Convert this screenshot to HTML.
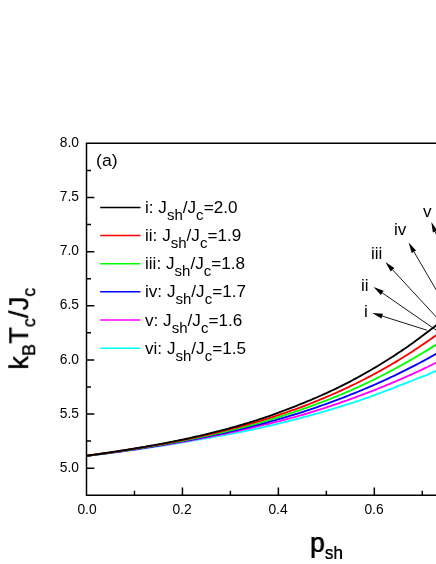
<!DOCTYPE html>
<html><head><meta charset="utf-8"><title>chart</title>
<style>
html,body{margin:0;padding:0;background:#fff;}
body{width:436px;height:564px;position:relative;overflow:hidden;font-family:"Liberation Sans",sans-serif;color:#000;}
.t{position:absolute;white-space:nowrap;line-height:1;will-change:transform;}
.yl{font-size:13.8px;text-align:right;width:40px;}
.xl{font-size:13.8px;text-align:center;width:40px;}
.lg{font-size:16.3px;transform-origin:0 0;transform:scaleX(1.052);will-change:transform;}
.lg sub{font-size:14.3px;vertical-align:baseline;position:relative;top:6.8px;line-height:0;}
.ar{font-size:16.3px;transform-origin:0 0;transform:scaleX(1.05);}
</style></head><body>
<svg width="436" height="564" viewBox="0 0 436 564" style="position:absolute;left:0;top:0">
<path d="M86.5,455.80 L88.5,455.58 L90.5,455.36 L92.5,455.14 L94.5,454.91 L96.5,454.68 L98.5,454.45 L100.5,454.21 L102.5,453.98 L104.5,453.73 L106.5,453.49 L108.5,453.25 L110.5,453.00 L112.5,452.75 L114.5,452.49 L116.5,452.24 L118.5,451.98 L120.5,451.72 L122.5,451.45 L124.5,451.19 L126.5,450.92 L128.5,450.65 L130.5,450.37 L132.5,450.10 L134.5,449.82 L136.5,449.54 L138.5,449.25 L140.5,448.97 L142.5,448.68 L144.5,448.39 L146.5,448.09 L148.5,447.80 L150.5,447.50 L152.5,447.20 L154.5,446.89 L156.5,446.59 L158.5,446.28 L160.5,445.97 L162.5,445.66 L164.5,445.34 L166.5,445.03 L168.5,444.71 L170.5,444.39 L172.5,444.06 L174.5,443.73 L176.5,443.40 L178.5,443.07 L180.5,442.74 L182.5,442.40 L184.5,442.06 L186.5,441.72 L188.5,441.38 L190.5,441.03 L192.5,440.69 L194.5,440.34 L196.5,439.98 L198.5,439.63 L200.5,439.28 L202.5,438.92 L204.5,438.57 L206.5,438.22 L208.5,437.87 L210.5,437.52 L212.5,437.16 L214.5,436.81 L216.5,436.45 L218.5,436.09 L220.5,435.73 L222.5,435.37 L224.5,435.01 L226.5,434.64 L228.5,434.27 L230.5,433.90 L232.5,433.53 L234.5,433.15 L236.5,432.77 L238.5,432.38 L240.5,431.99 L242.5,431.60 L244.5,431.20 L246.5,430.79 L248.5,430.38 L250.5,429.97 L252.5,429.55 L254.5,429.12 L256.5,428.69 L258.5,428.25 L260.5,427.81 L262.5,427.36 L264.5,426.91 L266.5,426.45 L268.5,425.99 L270.5,425.52 L272.5,425.05 L274.5,424.57 L276.5,424.09 L278.5,423.61 L280.5,423.12 L282.5,422.63 L284.5,422.13 L286.5,421.63 L288.5,421.13 L290.5,420.62 L292.5,420.11 L294.5,419.59 L296.5,419.08 L298.5,418.55 L300.5,418.03 L302.5,417.50 L304.5,416.97 L306.5,416.43 L308.5,415.89 L310.5,415.35 L312.5,414.79 L314.5,414.24 L316.5,413.68 L318.5,413.12 L320.5,412.55 L322.5,411.98 L324.5,411.40 L326.5,410.81 L328.5,410.23 L330.5,409.63 L332.5,409.04 L334.5,408.43 L336.5,407.83 L338.5,407.21 L340.5,406.60 L342.5,405.97 L344.5,405.34 L346.5,404.71 L348.5,404.07 L350.5,403.43 L352.5,402.77 L354.5,402.11 L356.5,401.44 L358.5,400.76 L360.5,400.08 L362.5,399.38 L364.5,398.68 L366.5,397.98 L368.5,397.26 L370.5,396.54 L372.5,395.81 L374.5,395.08 L376.5,394.34 L378.5,393.60 L380.5,392.85 L382.5,392.10 L384.5,391.34 L386.5,390.58 L388.5,389.82 L390.5,389.05 L392.5,388.28 L394.5,387.50 L396.5,386.73 L398.5,385.95 L400.5,385.16 L402.5,384.38 L404.5,383.60 L406.5,382.81 L408.5,382.03 L410.5,381.26 L412.5,380.50 L414.5,379.74 L416.5,378.97 L418.5,378.20 L420.5,377.43 L422.5,376.64 L424.5,375.84 L426.5,375.02 L428.5,374.18 L430.5,373.33 L432.5,372.47 L434.5,371.59 L436.5,370.71 L438.5,369.82" fill="none" stroke="#00ffff" stroke-width="1.85" stroke-linejoin="round"/>
<path d="M86.5,455.80 L88.5,455.57 L90.5,455.33 L92.5,455.10 L94.5,454.86 L96.5,454.61 L98.5,454.37 L100.5,454.12 L102.5,453.87 L104.5,453.62 L106.5,453.37 L108.5,453.11 L110.5,452.85 L112.5,452.59 L114.5,452.32 L116.5,452.06 L118.5,451.79 L120.5,451.52 L122.5,451.24 L124.5,450.96 L126.5,450.69 L128.5,450.40 L130.5,450.12 L132.5,449.83 L134.5,449.54 L136.5,449.25 L138.5,448.96 L140.5,448.66 L142.5,448.36 L144.5,448.06 L146.5,447.76 L148.5,447.45 L150.5,447.14 L152.5,446.83 L154.5,446.51 L156.5,446.20 L158.5,445.88 L160.5,445.56 L162.5,445.23 L164.5,444.90 L166.5,444.57 L168.5,444.24 L170.5,443.90 L172.5,443.57 L174.5,443.22 L176.5,442.88 L178.5,442.53 L180.5,442.18 L182.5,441.83 L184.5,441.48 L186.5,441.12 L188.5,440.76 L190.5,440.39 L192.5,440.03 L194.5,439.66 L196.5,439.29 L198.5,438.91 L200.5,438.53 L202.5,438.15 L204.5,437.77 L206.5,437.38 L208.5,436.99 L210.5,436.60 L212.5,436.20 L214.5,435.80 L216.5,435.40 L218.5,434.99 L220.5,434.58 L222.5,434.17 L224.5,433.75 L226.5,433.33 L228.5,432.91 L230.5,432.49 L232.5,432.06 L234.5,431.62 L236.5,431.19 L238.5,430.75 L240.5,430.30 L242.5,429.86 L244.5,429.41 L246.5,428.95 L248.5,428.50 L250.5,428.04 L252.5,427.57 L254.5,427.10 L256.5,426.63 L258.5,426.16 L260.5,425.68 L262.5,425.20 L264.5,424.72 L266.5,424.24 L268.5,423.76 L270.5,423.27 L272.5,422.78 L274.5,422.28 L276.5,421.78 L278.5,421.28 L280.5,420.78 L282.5,420.26 L284.5,419.75 L286.5,419.23 L288.5,418.70 L290.5,418.17 L292.5,417.63 L294.5,417.09 L296.5,416.54 L298.5,415.98 L300.5,415.42 L302.5,414.84 L304.5,414.26 L306.5,413.68 L308.5,413.08 L310.5,412.47 L312.5,411.86 L314.5,411.24 L316.5,410.62 L318.5,409.98 L320.5,409.34 L322.5,408.70 L324.5,408.05 L326.5,407.39 L328.5,406.72 L330.5,406.05 L332.5,405.38 L334.5,404.70 L336.5,404.02 L338.5,403.33 L340.5,402.63 L342.5,401.93 L344.5,401.23 L346.5,400.53 L348.5,399.82 L350.5,399.11 L352.5,398.39 L354.5,397.66 L356.5,396.93 L358.5,396.20 L360.5,395.45 L362.5,394.70 L364.5,393.95 L366.5,393.19 L368.5,392.42 L370.5,391.65 L372.5,390.87 L374.5,390.08 L376.5,389.29 L378.5,388.49 L380.5,387.68 L382.5,386.87 L384.5,386.05 L386.5,385.23 L388.5,384.40 L390.5,383.56 L392.5,382.72 L394.5,381.87 L396.5,381.02 L398.5,380.16 L400.5,379.29 L402.5,378.42 L404.5,377.54 L406.5,376.65 L408.5,375.76 L410.5,374.87 L412.5,373.97 L414.5,373.07 L416.5,372.15 L418.5,371.23 L420.5,370.31 L422.5,369.37 L424.5,368.42 L426.5,367.46 L428.5,366.49 L430.5,365.50 L432.5,364.51 L434.5,363.51 L436.5,362.51 L438.5,361.49" fill="none" stroke="#ff00ff" stroke-width="1.85" stroke-linejoin="round"/>
<path d="M86.5,455.80 L88.5,455.55 L90.5,455.31 L92.5,455.06 L94.5,454.80 L96.5,454.55 L98.5,454.29 L100.5,454.03 L102.5,453.77 L104.5,453.51 L106.5,453.25 L108.5,452.98 L110.5,452.71 L112.5,452.44 L114.5,452.16 L116.5,451.88 L118.5,451.61 L120.5,451.32 L122.5,451.04 L124.5,450.75 L126.5,450.47 L128.5,450.17 L130.5,449.88 L132.5,449.59 L134.5,449.29 L136.5,448.99 L138.5,448.68 L140.5,448.38 L142.5,448.07 L144.5,447.76 L146.5,447.44 L148.5,447.12 L150.5,446.80 L152.5,446.48 L154.5,446.16 L156.5,445.83 L158.5,445.50 L160.5,445.16 L162.5,444.83 L164.5,444.49 L166.5,444.15 L168.5,443.80 L170.5,443.45 L172.5,443.10 L174.5,442.75 L176.5,442.39 L178.5,442.03 L180.5,441.66 L182.5,441.30 L184.5,440.92 L186.5,440.55 L188.5,440.17 L190.5,439.79 L192.5,439.41 L194.5,439.02 L196.5,438.63 L198.5,438.24 L200.5,437.84 L202.5,437.44 L204.5,437.04 L206.5,436.63 L208.5,436.22 L210.5,435.80 L212.5,435.38 L214.5,434.96 L216.5,434.53 L218.5,434.10 L220.5,433.67 L222.5,433.23 L224.5,432.79 L226.5,432.34 L228.5,431.89 L230.5,431.44 L232.5,430.98 L234.5,430.51 L236.5,430.05 L238.5,429.58 L240.5,429.10 L242.5,428.62 L244.5,428.14 L246.5,427.65 L248.5,427.16 L250.5,426.66 L252.5,426.16 L254.5,425.65 L256.5,425.14 L258.5,424.63 L260.5,424.11 L262.5,423.58 L264.5,423.05 L266.5,422.52 L268.5,421.98 L270.5,421.43 L272.5,420.88 L274.5,420.33 L276.5,419.77 L278.5,419.21 L280.5,418.64 L282.5,418.06 L284.5,417.48 L286.5,416.90 L288.5,416.31 L290.5,415.71 L292.5,415.11 L294.5,414.50 L296.5,413.89 L298.5,413.27 L300.5,412.65 L302.5,412.01 L304.5,411.37 L306.5,410.73 L308.5,410.07 L310.5,409.40 L312.5,408.73 L314.5,408.05 L316.5,407.36 L318.5,406.66 L320.5,405.96 L322.5,405.25 L324.5,404.54 L326.5,403.81 L328.5,403.08 L330.5,402.35 L332.5,401.61 L334.5,400.86 L336.5,400.11 L338.5,399.35 L340.5,398.59 L342.5,397.82 L344.5,397.05 L346.5,396.27 L348.5,395.49 L350.5,394.71 L352.5,393.92 L354.5,393.12 L356.5,392.31 L358.5,391.50 L360.5,390.68 L362.5,389.85 L364.5,389.02 L366.5,388.18 L368.5,387.33 L370.5,386.47 L372.5,385.60 L374.5,384.73 L376.5,383.85 L378.5,382.96 L380.5,382.07 L382.5,381.16 L384.5,380.25 L386.5,379.33 L388.5,378.40 L390.5,377.46 L392.5,376.52 L394.5,375.56 L396.5,374.60 L398.5,373.63 L400.5,372.65 L402.5,371.66 L404.5,370.67 L406.5,369.66 L408.5,368.65 L410.5,367.64 L412.5,366.62 L414.5,365.59 L416.5,364.56 L418.5,363.52 L420.5,362.46 L422.5,361.40 L424.5,360.33 L426.5,359.24 L428.5,358.14 L430.5,357.03 L432.5,355.91 L434.5,354.78 L436.5,353.64 L438.5,352.49" fill="none" stroke="#0000ff" stroke-width="1.85" stroke-linejoin="round"/>
<path d="M86.5,455.80 L88.5,455.54 L90.5,455.27 L92.5,455.01 L94.5,454.74 L96.5,454.47 L98.5,454.20 L100.5,453.93 L102.5,453.66 L104.5,453.38 L106.5,453.10 L108.5,452.82 L110.5,452.54 L112.5,452.26 L114.5,451.97 L116.5,451.69 L118.5,451.40 L120.5,451.11 L122.5,450.81 L124.5,450.52 L126.5,450.22 L128.5,449.92 L130.5,449.61 L132.5,449.31 L134.5,449.00 L136.5,448.69 L138.5,448.37 L140.5,448.06 L142.5,447.74 L144.5,447.42 L146.5,447.09 L148.5,446.77 L150.5,446.44 L152.5,446.10 L154.5,445.77 L156.5,445.43 L158.5,445.09 L160.5,444.74 L162.5,444.40 L164.5,444.05 L166.5,443.69 L168.5,443.33 L170.5,442.97 L172.5,442.61 L174.5,442.24 L176.5,441.87 L178.5,441.50 L180.5,441.12 L182.5,440.74 L184.5,440.35 L186.5,439.96 L188.5,439.57 L190.5,439.17 L192.5,438.77 L194.5,438.37 L196.5,437.96 L198.5,437.55 L200.5,437.13 L202.5,436.71 L204.5,436.29 L206.5,435.86 L208.5,435.43 L210.5,434.99 L212.5,434.55 L214.5,434.10 L216.5,433.65 L218.5,433.20 L220.5,432.74 L222.5,432.28 L224.5,431.81 L226.5,431.34 L228.5,430.86 L230.5,430.38 L232.5,429.89 L234.5,429.40 L236.5,428.90 L238.5,428.40 L240.5,427.89 L242.5,427.38 L244.5,426.86 L246.5,426.34 L248.5,425.81 L250.5,425.28 L252.5,424.74 L254.5,424.20 L256.5,423.65 L258.5,423.09 L260.5,422.53 L262.5,421.96 L264.5,421.38 L266.5,420.79 L268.5,420.20 L270.5,419.60 L272.5,418.99 L274.5,418.38 L276.5,417.76 L278.5,417.13 L280.5,416.50 L282.5,415.86 L284.5,415.22 L286.5,414.57 L288.5,413.91 L290.5,413.25 L292.5,412.59 L294.5,411.92 L296.5,411.24 L298.5,410.56 L300.5,409.88 L302.5,409.19 L304.5,408.49 L306.5,407.79 L308.5,407.08 L310.5,406.36 L312.5,405.64 L314.5,404.91 L316.5,404.17 L318.5,403.42 L320.5,402.67 L322.5,401.91 L324.5,401.15 L326.5,400.37 L328.5,399.59 L330.5,398.80 L332.5,398.00 L334.5,397.20 L336.5,396.38 L338.5,395.56 L340.5,394.74 L342.5,393.90 L344.5,393.06 L346.5,392.20 L348.5,391.34 L350.5,390.48 L352.5,389.60 L354.5,388.71 L356.5,387.81 L358.5,386.91 L360.5,385.99 L362.5,385.06 L364.5,384.12 L366.5,383.18 L368.5,382.22 L370.5,381.26 L372.5,380.28 L374.5,379.30 L376.5,378.31 L378.5,377.30 L380.5,376.29 L382.5,375.27 L384.5,374.24 L386.5,373.21 L388.5,372.16 L390.5,371.11 L392.5,370.04 L394.5,368.97 L396.5,367.89 L398.5,366.80 L400.5,365.71 L402.5,364.60 L404.5,363.49 L406.5,362.37 L408.5,361.24 L410.5,360.10 L412.5,358.95 L414.5,357.79 L416.5,356.62 L418.5,355.44 L420.5,354.25 L422.5,353.04 L424.5,351.83 L426.5,350.61 L428.5,349.38 L430.5,348.13 L432.5,346.88 L434.5,345.62 L436.5,344.34 L438.5,343.05" fill="none" stroke="#00ff00" stroke-width="1.85" stroke-linejoin="round"/>
<path d="M86.5,455.80 L88.5,455.53 L90.5,455.26 L92.5,454.98 L94.5,454.70 L96.5,454.43 L98.5,454.15 L100.5,453.87 L102.5,453.58 L104.5,453.30 L106.5,453.01 L108.5,452.72 L110.5,452.43 L112.5,452.14 L114.5,451.84 L116.5,451.54 L118.5,451.24 L120.5,450.94 L122.5,450.64 L124.5,450.33 L126.5,450.02 L128.5,449.71 L130.5,449.40 L132.5,449.08 L134.5,448.76 L136.5,448.44 L138.5,448.11 L140.5,447.78 L142.5,447.45 L144.5,447.12 L146.5,446.78 L148.5,446.44 L150.5,446.10 L152.5,445.75 L154.5,445.40 L156.5,445.05 L158.5,444.69 L160.5,444.33 L162.5,443.97 L164.5,443.60 L166.5,443.23 L168.5,442.86 L170.5,442.48 L172.5,442.10 L174.5,441.72 L176.5,441.33 L178.5,440.94 L180.5,440.54 L182.5,440.14 L184.5,439.74 L186.5,439.33 L188.5,438.91 L190.5,438.50 L192.5,438.08 L194.5,437.65 L196.5,437.22 L198.5,436.79 L200.5,436.35 L202.5,435.90 L204.5,435.46 L206.5,435.00 L208.5,434.55 L210.5,434.08 L212.5,433.62 L214.5,433.14 L216.5,432.67 L218.5,432.18 L220.5,431.70 L222.5,431.20 L224.5,430.71 L226.5,430.20 L228.5,429.69 L230.5,429.18 L232.5,428.66 L234.5,428.14 L236.5,427.61 L238.5,427.07 L240.5,426.53 L242.5,425.98 L244.5,425.43 L246.5,424.87 L248.5,424.30 L250.5,423.73 L252.5,423.16 L254.5,422.57 L256.5,421.98 L258.5,421.39 L260.5,420.79 L262.5,420.18 L264.5,419.56 L266.5,418.94 L268.5,418.31 L270.5,417.68 L272.5,417.04 L274.5,416.39 L276.5,415.73 L278.5,415.07 L280.5,414.40 L282.5,413.73 L284.5,413.05 L286.5,412.36 L288.5,411.66 L290.5,410.96 L292.5,410.24 L294.5,409.53 L296.5,408.80 L298.5,408.07 L300.5,407.32 L302.5,406.58 L304.5,405.82 L306.5,405.06 L308.5,404.28 L310.5,403.50 L312.5,402.71 L314.5,401.92 L316.5,401.11 L318.5,400.30 L320.5,399.48 L322.5,398.65 L324.5,397.82 L326.5,396.97 L328.5,396.12 L330.5,395.25 L332.5,394.38 L334.5,393.50 L336.5,392.62 L338.5,391.72 L340.5,390.81 L342.5,389.90 L344.5,388.97 L346.5,388.04 L348.5,387.10 L350.5,386.15 L352.5,385.19 L354.5,384.21 L356.5,383.23 L358.5,382.24 L360.5,381.24 L362.5,380.23 L364.5,379.20 L366.5,378.17 L368.5,377.13 L370.5,376.07 L372.5,375.01 L374.5,373.93 L376.5,372.85 L378.5,371.75 L380.5,370.65 L382.5,369.53 L384.5,368.40 L386.5,367.26 L388.5,366.11 L390.5,364.95 L392.5,363.78 L394.5,362.60 L396.5,361.40 L398.5,360.20 L400.5,358.98 L402.5,357.75 L404.5,356.52 L406.5,355.26 L408.5,354.00 L410.5,352.71 L412.5,351.41 L414.5,350.10 L416.5,348.77 L418.5,347.43 L420.5,346.09 L422.5,344.73 L424.5,343.37 L426.5,342.01 L428.5,340.64 L430.5,339.27 L432.5,337.88 L434.5,336.48 L436.5,335.07 L438.5,333.64" fill="none" stroke="#ff0000" stroke-width="1.85" stroke-linejoin="round"/>
<path d="M86.5,455.80 L88.5,455.52 L90.5,455.23 L92.5,454.95 L94.5,454.66 L96.5,454.37 L98.5,454.08 L100.5,453.79 L102.5,453.49 L104.5,453.20 L106.5,452.90 L108.5,452.60 L110.5,452.30 L112.5,452.00 L114.5,451.69 L116.5,451.39 L118.5,451.08 L120.5,450.77 L122.5,450.45 L124.5,450.14 L126.5,449.82 L128.5,449.50 L130.5,449.17 L132.5,448.84 L134.5,448.52 L136.5,448.18 L138.5,447.85 L140.5,447.51 L142.5,447.17 L144.5,446.82 L146.5,446.47 L148.5,446.12 L150.5,445.77 L152.5,445.41 L154.5,445.05 L156.5,444.68 L158.5,444.31 L160.5,443.94 L162.5,443.56 L164.5,443.18 L166.5,442.80 L168.5,442.41 L170.5,442.02 L172.5,441.62 L174.5,441.22 L176.5,440.82 L178.5,440.41 L180.5,439.99 L182.5,439.58 L184.5,439.15 L186.5,438.73 L188.5,438.29 L190.5,437.86 L192.5,437.41 L194.5,436.97 L196.5,436.52 L198.5,436.06 L200.5,435.60 L202.5,435.13 L204.5,434.66 L206.5,434.18 L208.5,433.70 L210.5,433.21 L212.5,432.71 L214.5,432.21 L216.5,431.71 L218.5,431.20 L220.5,430.68 L222.5,430.16 L224.5,429.63 L226.5,429.09 L228.5,428.55 L230.5,428.00 L232.5,427.45 L234.5,426.89 L236.5,426.32 L238.5,425.75 L240.5,425.17 L242.5,424.58 L244.5,423.99 L246.5,423.39 L248.5,422.78 L250.5,422.17 L252.5,421.55 L254.5,420.92 L256.5,420.28 L258.5,419.64 L260.5,418.99 L262.5,418.33 L264.5,417.65 L266.5,416.97 L268.5,416.28 L270.5,415.58 L272.5,414.88 L274.5,414.16 L276.5,413.44 L278.5,412.71 L280.5,411.97 L282.5,411.22 L284.5,410.47 L286.5,409.70 L288.5,408.93 L290.5,408.16 L292.5,407.37 L294.5,406.58 L296.5,405.79 L298.5,404.98 L300.5,404.17 L302.5,403.36 L304.5,402.54 L306.5,401.71 L308.5,400.88 L310.5,400.04 L312.5,399.19 L314.5,398.34 L316.5,397.48 L318.5,396.61 L320.5,395.73 L322.5,394.85 L324.5,393.95 L326.5,393.05 L328.5,392.13 L330.5,391.21 L332.5,390.27 L334.5,389.32 L336.5,388.37 L338.5,387.40 L340.5,386.41 L342.5,385.42 L344.5,384.41 L346.5,383.39 L348.5,382.36 L350.5,381.31 L352.5,380.25 L354.5,379.18 L356.5,378.10 L358.5,377.00 L360.5,375.90 L362.5,374.79 L364.5,373.66 L366.5,372.53 L368.5,371.38 L370.5,370.22 L372.5,369.05 L374.5,367.87 L376.5,366.68 L378.5,365.48 L380.5,364.26 L382.5,363.04 L384.5,361.80 L386.5,360.55 L388.5,359.29 L390.5,358.02 L392.5,356.73 L394.5,355.43 L396.5,354.12 L398.5,352.80 L400.5,351.47 L402.5,350.12 L404.5,348.77 L406.5,347.40 L408.5,346.01 L410.5,344.60 L412.5,343.17 L414.5,341.72 L416.5,340.26 L418.5,338.79 L420.5,337.30 L422.5,335.81 L424.5,334.30 L426.5,332.80 L428.5,331.28 L430.5,329.76 L432.5,328.22 L434.5,326.67 L436.5,325.10 L438.5,323.52" fill="none" stroke="#000000" stroke-width="1.85" stroke-linejoin="round"/>
<path d="M438,143.35 H86.5 V495.26 H438" fill="none" stroke="#000" stroke-width="1.5" stroke-linejoin="miter"/>
<path d="M86.5,468.19 h7.8 M86.5,441.12 h4.5 M86.5,414.05 h7.8 M86.5,386.98 h4.5 M86.5,359.91 h7.8 M86.5,332.84 h4.5 M86.5,305.77 h7.8 M86.5,278.70 h4.5 M86.5,251.63 h7.8 M86.5,224.56 h4.5 M86.5,197.49 h7.8 M86.5,170.42 h4.5 M134.47,495.26 v-4.5 M182.44,495.26 v-7.8 M230.41,495.26 v-4.5 M278.38,495.26 v-7.8 M326.35,495.26 v-4.5 M374.32,495.26 v-7.8 M422.29,495.26 v-4.5" fill="none" stroke="#000" stroke-width="1.5"/>
<line x1="100.2" x2="140.5" y1="207.40" y2="207.40" stroke="#000000" stroke-width="1.5"/>
<line x1="100.2" x2="140.5" y1="235.55" y2="235.55" stroke="#ff0000" stroke-width="1.5"/>
<line x1="100.2" x2="140.5" y1="263.70" y2="263.70" stroke="#00ff00" stroke-width="1.5"/>
<line x1="100.2" x2="140.5" y1="291.85" y2="291.85" stroke="#0000ff" stroke-width="1.5"/>
<line x1="100.2" x2="140.5" y1="320.00" y2="320.00" stroke="#ff00ff" stroke-width="1.5"/>
<line x1="100.2" x2="140.5" y1="348.15" y2="348.15" stroke="#00ffff" stroke-width="1.5"/>
<line x1="382.21" y1="316.06" x2="426.90" y2="330.19" stroke="#000" stroke-width="0.9"/>
<polygon points="372.20,312.90 381.46,318.45 382.97,313.68" fill="#000"/>
<line x1="382.24" y1="292.87" x2="440.00" y2="332.78" stroke="#000" stroke-width="0.9"/>
<polygon points="373.60,286.90 380.82,294.93 383.66,290.81" fill="#000"/>
<line x1="392.53" y1="269.71" x2="440.00" y2="321.02" stroke="#000" stroke-width="0.9"/>
<polygon points="385.40,262.00 390.70,271.41 394.37,268.01" fill="#000"/>
<line x1="413.89" y1="251.67" x2="440.00" y2="296.45" stroke="#000" stroke-width="0.9"/>
<polygon points="408.60,242.60 411.73,252.93 416.05,250.41" fill="#000"/>
<line x1="435.20" y1="231.65" x2="440.00" y2="243.65" stroke="#000" stroke-width="0.9"/>
<polygon points="431.30,221.90 432.88,232.58 437.52,230.72" fill="#000"/>
</svg>
<div class="t yl" style="left:38.5px;top:460.89px">5.0</div>
<div class="t yl" style="left:38.5px;top:406.75px">5.5</div>
<div class="t yl" style="left:38.5px;top:352.61px">6.0</div>
<div class="t yl" style="left:38.5px;top:298.47px">6.5</div>
<div class="t yl" style="left:38.5px;top:244.33px">7.0</div>
<div class="t yl" style="left:38.5px;top:190.19px">7.5</div>
<div class="t yl" style="left:38.5px;top:136.05px">8.0</div>
<div class="t xl" style="left:66.50px;top:502.8px">0.0</div>
<div class="t xl" style="left:162.44px;top:502.8px">0.2</div>
<div class="t xl" style="left:258.38px;top:502.8px">0.4</div>
<div class="t xl" style="left:354.32px;top:502.8px">0.6</div>
<div class="t lg a" style="left:96px;top:152.5px;font-size:16.8px">(a)</div>
<div class="t lg" style="left:144.8px;top:199.00px">i: J<sub>sh</sub>/J<sub>c</sub>=2.0</div>
<div class="t lg" style="left:144.8px;top:227.15px">ii: J<sub>sh</sub>/J<sub>c</sub>=1.9</div>
<div class="t lg" style="left:144.8px;top:255.30px">iii: J<sub>sh</sub>/J<sub>c</sub>=1.8</div>
<div class="t lg" style="left:144.8px;top:283.45px">iv: J<sub>sh</sub>/J<sub>c</sub>=1.7</div>
<div class="t lg" style="left:144.8px;top:311.60px">v: J<sub>sh</sub>/J<sub>c</sub>=1.6</div>
<div class="t lg" style="left:144.8px;top:339.75px">vi: J<sub>sh</sub>/J<sub>c</sub>=1.5</div>
<div class="t ar" style="left:363.5px;top:303.1px">i</div>
<div class="t ar" style="left:361.1px;top:277.2px">ii</div>
<div class="t ar" style="left:370.7px;top:245.2px">iii</div>
<div class="t ar" style="left:393.8px;top:221.3px">iv</div>
<div class="t ar" style="left:423.1px;top:203.3px">v</div>
<div class="t bold" id="xlab" style="left:310.4px;top:528.2px;font-size:28.2px;transform-origin:0 0;transform:scaleX(0.94)">p<sub style="font-size:18.2px;vertical-align:baseline;position:relative;top:6.8px;line-height:0">sh</sub></div>
<div class="t bold" id="ylab" style="left:0px;top:0px;font-size:28.2px;transform-origin:0 0;transform:translate(22.25px,369.8px) rotate(-90deg) scaleX(0.982);line-height:1;height:0"><span style="position:absolute;left:0;bottom:0;line-height:0">k<sub class="s">B</sub>T<sub class="s">c</sub>/J<sub class="s">c</sub></span></div>
<style>.s{font-size:18.2px;vertical-align:baseline;position:relative;top:7.1px;line-height:0}.bold{text-shadow:0.2px 0 0 #000;}.bold sub{text-shadow:0.1px 0 0 #000;}#xlab{text-shadow:0.25px 0 0 #000,-0.25px 0 0 #000;}</style>
</body></html>
